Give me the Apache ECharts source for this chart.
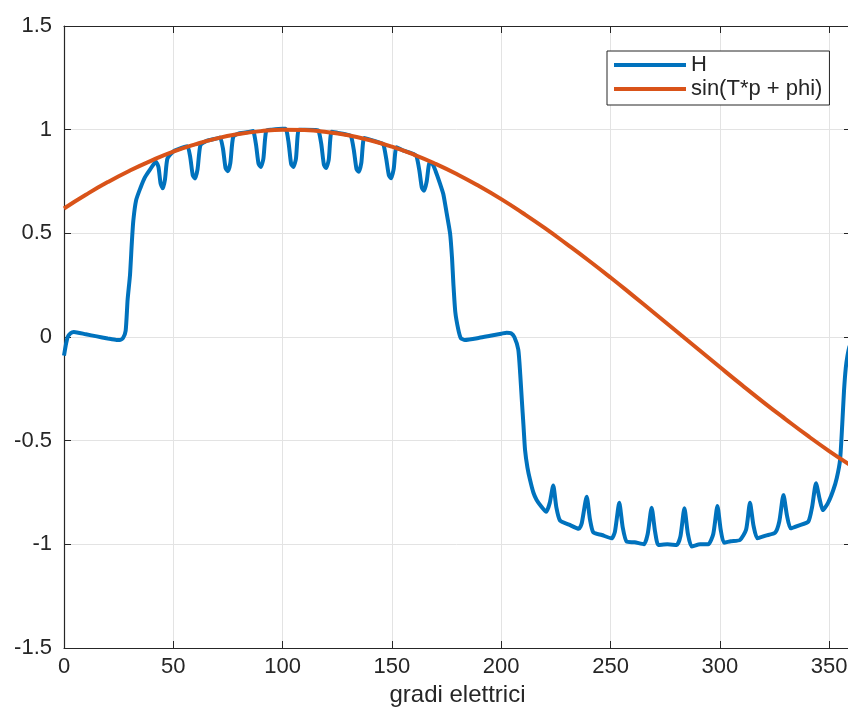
<!DOCTYPE html>
<html>
<head>
<meta charset="utf-8">
<script src="https://cdn.jsdelivr.net/npm/echarts@6/dist/echarts.min.js"></script>
<style>
html,body{margin:0;padding:0;background:#fff;}
#chart{width:848px;height:711px;}
</style>
</head>
<body>
<div id="chart"></div>
<script>
// Series H (x in degrees, y values)
var hX = [0,0.8,1.7,3,4.5,10,15,20,24,25.5,27,28.2,29.1,30.2,31,31.7,33,35,37,39.5,42,
  43.2,44.2,45.2,46.2,47.3,50,52,
  56.4,57.7,58.9,59.9,61.1,62.4,65,70,
  71.4,72.7,73.9,74.9,76.1,77.4,80,85,
  86.5,87.8,89,90,91.2,92.5,95,100,
  101.4,102.7,103.9,104.9,106.1,107.4,110,115,
  116.4,117.7,118.9,119.9,121.1,122.4,125,130,
  131.3,132.6,133.8,134.8,136,137.3,140,145,
  146.1,147.4,148.6,149.6,150.8,152.1,155,160,
  161.3,162.6,163.7,164.7,165.9,167.2,168.2,
  170,172,173.5,175,176.6,177.5,178.1,179,180.4,181.5,183.4,190,195,200,202.5,204.5,206,
  207.8,208.7,209.4,210.2,210.9,212,213.2,214.7,216.2,218.5,220.6,
  222.2,223.8,225.2,226.9,231,235.5,
  236.8,239.1,240.6,242.1,246,250.5,
  252,254,255.6,257.4,261,265.3,
  267,268.8,270.4,271.9,276,280.3,
  282,283.8,285.4,287.1,291,294.7,
  297,298.9,300.4,301.9,305,309.2,
  312,313.8,315.4,317.2,321,325.3,
  327.2,329.1,330.7,332.4,336,340.5,
  342.2,344,345.6,347.1,349.5,351.9,353.5,355,356,356.8,357.6,358.4,359.2,360];
var hY = [-0.09,-0.04,0.0,0.018,0.024,0.013,0.003,-0.007,-0.014,-0.014,-0.005,0.03,0.18,0.30,0.45,0.56,0.66,0.72,0.77,0.81,0.845,
  0.82,0.74,0.717,0.76,0.86,0.895,0.905,
  0.92,0.87,0.78,0.765,0.81,0.925,0.945,0.958,
  0.962,0.91,0.815,0.80,0.84,0.965,0.982,0.99,
  0.993,0.93,0.835,0.82,0.86,0.995,1.0,1.005,
  1.005,0.94,0.835,0.82,0.86,1.0,1.0,0.998,
  0.996,0.93,0.83,0.815,0.855,0.99,0.985,0.975,
  0.97,0.90,0.81,0.797,0.84,0.96,0.952,0.935,
  0.93,0.86,0.78,0.766,0.81,0.915,0.90,0.882,
  0.87,0.80,0.72,0.705,0.75,0.84,0.84,
  0.80,0.74,0.69,0.60,0.50,0.38,0.26,0.12,0.034,-0.005,-0.014,-0.004,0.006,0.016,0.021,0.018,0.0,
  -0.06,-0.18,-0.30,-0.43,-0.545,-0.63,-0.69,-0.75,-0.786,-0.82,-0.843,
  -0.80,-0.716,-0.82,-0.885,-0.905,-0.925,
  -0.90,-0.77,-0.88,-0.942,-0.955,-0.971,
  -0.94,-0.80,-0.92,-0.987,-0.99,-0.999,
  -0.95,-0.823,-0.94,-1.003,-1.0,-1.003,
  -0.96,-0.826,-0.95,-1.01,-1.0,-1.0,
  -0.95,-0.815,-0.93,-0.992,-0.985,-0.979,
  -0.93,-0.80,-0.91,-0.971,-0.958,-0.944,
  -0.89,-0.762,-0.86,-0.923,-0.91,-0.89,
  -0.82,-0.705,-0.78,-0.835,-0.80,-0.738,-0.68,-0.593,-0.42,-0.26,-0.15,-0.09,-0.05,-0.03];

// Series sin(T*p + phi)
var sX = [0,10,20,30,40,50,60,70,80,90,100,110,120,130,140,150,160,170,180,190,200,210,220,230,240,250,260,270,280,290,300,310,320,330,340,350,360];
var sY = [0.620,0.686,0.747,0.802,0.851,0.894,0.929,0.958,0.979,0.993,1.000,0.998,0.989,0.973,0.949,0.918,0.880,0.835,0.784,0.727,0.665,0.597,0.525,0.448,0.369,0.287,0.202,0.116,0.029,-0.058,-0.145,-0.231,-0.315,-0.396,-0.475,-0.550,-0.620];

var xTicks = [0,50,100,150,200,250,300,350];
var seriesNames = ['H','sin(T*p + phi)'];
var xTitle = 'gradi elettrici';

function pairs(xs, ys){ return xs.map(function(x,i){ return [x, ys[i]]; }); }

var FONT = "'Liberation Sans', Arial, Helvetica, sans-serif";
var AX = '#262626';
var chart = echarts.init(document.getElementById('chart'), null, {renderer:'canvas'});
var gridLine = {show:true, lineStyle:{color:'#e3e3e3', width:1}};
chart.setOption({
  animation:false,
  backgroundColor:'#ffffff',
  grid:{left:64, top:26, width:787, height:622, containLabel:false, outerBoundsMode:'none'},
  legend:{
    left:607, top:51, orient:'vertical', selectedMode:false,
    backgroundColor:'#fff',
    borderColor:AX, borderWidth:1, borderRadius:0,
    padding:[3,7,5,7], itemGap:2,
    itemWidth:72, itemHeight:4,
    textStyle:{fontFamily:FONT, fontSize:22, color:AX, lineHeight:22},
    data:[{name:seriesNames[0], icon:'rect'},{name:seriesNames[1], icon:'rect'}]
  },
  xAxis:[{
    type:'value', min:0, max:360, interval:50, position:'bottom',
    name:xTitle, nameLocation:'middle', nameGap:30,
    nameTextStyle:{fontFamily:FONT, fontSize:24, color:AX},
    axisLine:{show:true, onZero:false, lineStyle:{color:AX, width:1.2}},
    axisTick:{show:true, inside:true, length:7, lineStyle:{color:AX}},
    axisLabel:{fontFamily:FONT, fontSize:22, color:AX, margin:8, showMaxLabel:false,
      formatter:function(v){ return xTicks.indexOf(v) >= 0 ? String(v) : ''; }},
    splitLine:gridLine
  },{
    type:'value', min:0, max:360, interval:50, position:'top',
    axisLine:{show:true, onZero:false, lineStyle:{color:AX, width:1.2}},
    axisTick:{show:true, inside:true, length:7, lineStyle:{color:AX}},
    axisLabel:{show:false}, splitLine:{show:false}
  }],
  yAxis:[{
    type:'value', min:-1.5, max:1.5, interval:0.5, position:'left',
    axisLine:{show:true, onZero:false, lineStyle:{color:AX, width:1.2}},
    axisTick:{show:true, inside:true, length:7, lineStyle:{color:AX}},
    axisLabel:{fontFamily:FONT, fontSize:22, color:AX, margin:12},
    splitLine:gridLine
  },{
    type:'value', min:-1.5, max:1.5, interval:0.5, position:'right',
    axisLine:{show:true, onZero:false, lineStyle:{color:AX, width:1.2}},
    axisTick:{show:true, inside:true, length:7, lineStyle:{color:AX}},
    axisLabel:{show:false}, splitLine:{show:false}
  }],
  series:[{
    name:seriesNames[0], type:'line', xAxisIndex:0, yAxisIndex:0,
    data:pairs(hX,hY), showSymbol:false, symbol:'none', smooth:0.2,
    lineStyle:{color:'#0072BD', width:4}, itemStyle:{color:'#0072BD'}, z:2
  },{
    name:seriesNames[1], type:'line', xAxisIndex:0, yAxisIndex:0,
    data:pairs(sX,sY), showSymbol:false, symbol:'none', smooth:true,
    lineStyle:{color:'#D95319', width:4}, itemStyle:{color:'#D95319'}, z:3
  }]
});
</script>
</body>
</html>
